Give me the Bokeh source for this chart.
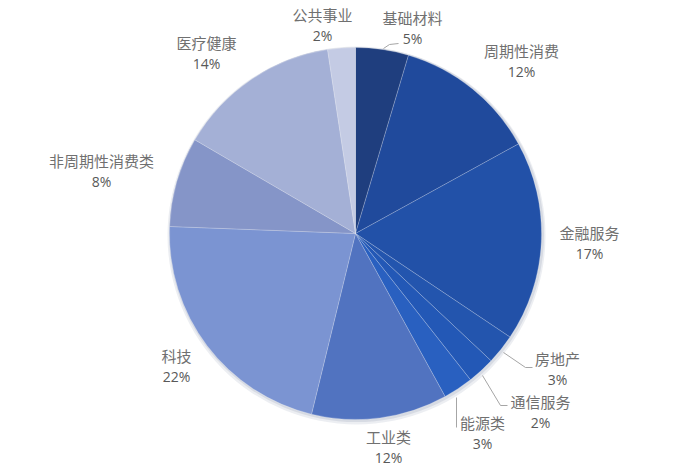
import numpy as np
from bokeh.plotting import figure
from bokeh.models import Range1d, ColumnDataSource
from bokeh.core.properties import value
from bokeh.embed import file_html
from bokeh.resources import INLINE

# ---- data ----
categories = ["基础材料", "周期性消费", "金融服务", "房地产", "通信服务", "能源类",
              "工业类", "科技", "非周期性消费类", "医疗健康", "公共事业"]
shares = [4.6, 12.4, 17.4, 2.6, 2.4, 2.6, 11.8, 21.8, 7.8, 14.2, 2.4]

# ---- style / layout ----
colors = ["#1f3e7e", "#204a9c", "#2251a8", "#2355ae", "#2358b6", "#2960c0",
          "#5173c0", "#7b94d2", "#8595c8", "#a4b0d6", "#c4cbe4"]
W, H = 679, 470
cx, cy, R = 355, 237, 186  # layout coords (y up)
label_pos = [(412, 17), (521, 50), (589, 232), (557, 358), (540, 401), (482, 422),
             (388, 436), (176, 355), (101, 160), (206, 42), (322, 14)]

def Y(y_down):
    return 470 - y_down

vals = np.array(shares, dtype=float)
frac = vals / vals.sum()
cum_end = np.cumsum(frac)
cum_start = cum_end - frac
start_angle = np.pi / 2 - 2 * np.pi * cum_start
end_angle = np.pi / 2 - 2 * np.pi * cum_end
pct_labels = [f"{int(round(v))}%" for v in vals]

src = ColumnDataSource(dict(cat=categories, start=start_angle, end=end_angle, color=colors))

p = figure(width=W, height=H, output_backend="svg", toolbar_location=None,
           x_range=Range1d(0, W), y_range=Range1d(0, H),
           min_border=0, outline_line_color=None)
p.axis.visible = False
p.grid.visible = False
p.background_fill_color = "white"
p.border_fill_color = "white"

# soft shadow
p.circle(x=cx + 1, y=cy - 2, radius=R + 3, fill_color="#c9ced9", fill_alpha=0.35, line_color=None)
p.circle(x=cx + 1, y=cy - 1, radius=R + 1.5, fill_color="#b8bfcd", fill_alpha=0.4, line_color=None)

p.wedge(x=cx, y=cy, radius=R, start_angle="start", end_angle="end", direction="clock",
        fill_color="color", line_color="#ffffff", line_alpha=0.35, line_width=0.6, source=src)

# leader lines
leaders = {
    0: ([383, 389, 398], [48, 44, 43]),
    3: ([503, 525, 532], [352, 367, 367]),
    4: ([482, 500, 507], [375, 405, 405]),
    5: ([456, 456], [397, 427]),
}
for i, (xs, ys) in leaders.items():
    p.line(x=xs, y=[Y(v) for v in ys], line_color="#a6a6a6", line_width=1)

lx = [pos[0] for pos in label_pos]
ly = [Y(pos[1]) for pos in label_pos]
ly2 = [Y(pos[1] + 21) for pos in label_pos]
p.text(x=lx, y=ly, text=categories, text_align="center", text_baseline="middle",
       text_font=value("Noto Sans CJK SC"), text_font_size="15px", text_color="#707070")
p.text(x=lx, y=ly2, text=pct_labels, text_align="center", text_baseline="middle",
       text_font=value("Open Sans"), text_font_size="14px", text_color="#595959")

open("out.html", "w").write(file_html(p, INLINE))
